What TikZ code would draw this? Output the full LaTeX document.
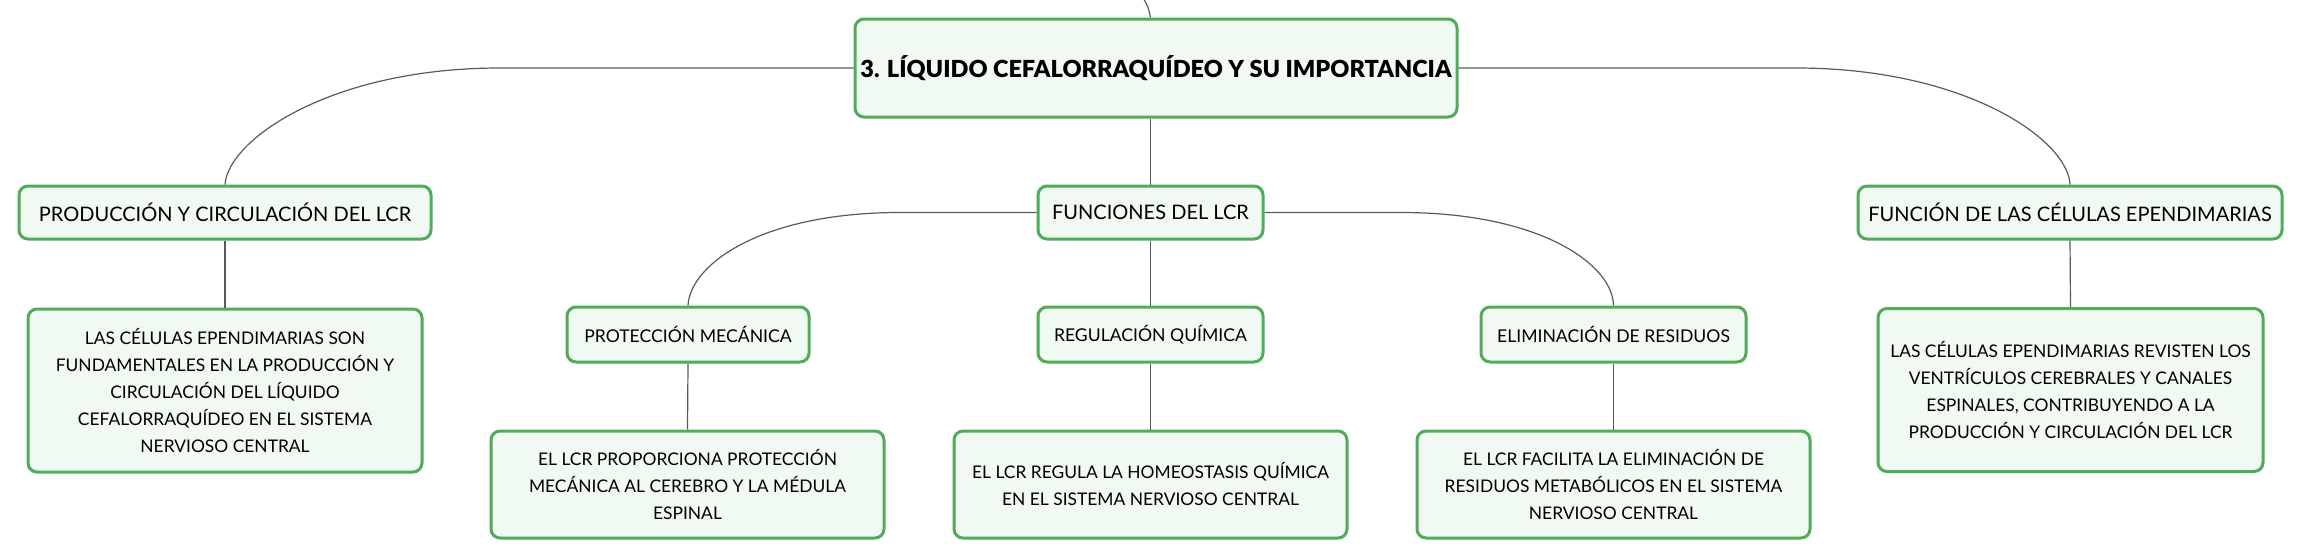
\documentclass[tikz,border=0pt]{standalone}
\usepackage{fontspec}
\setmainfont{Lato}
\IfFontExistsTF{Lato Black}{\newfontfamily\titlefont{Lato Black}}{\newfontfamily\titlefont[UprightFont=*-Bold]{Lato}}
\usetikzlibrary{calc}
\definecolor{boxgreen}{RGB}{80,172,88}
\definecolor{boxfill}{RGB}{241,249,243}
\definecolor{conncol}{RGB}{90,90,90}
\tikzset{
  box/.style={draw=boxgreen, fill=boxfill, line width=3pt, rounded corners=9pt,
    rectangle, inner sep=0pt, align=center, text=black,
    font=\fontsize{17.4}{27}\selectfont},
  labelbox/.style={box, font=\fontsize{20}{27}\selectfont},
  sublabelbox/.style={box, font=\fontsize{17.6}{27}\selectfont},
  titlebox/.style={box, font=\fontsize{23.5}{30}\titlefont},
  conn/.style={draw=conncol, line width=1.2pt},
}
\begin{document}
\begin{tikzpicture}[x=1pt,y=-1pt]
\useasboundingbox (0,0) rectangle (2313,558);
% nodes
\node[titlebox, minimum width=602pt, minimum height=98pt] (main) at (1156,68) {3. LÍQUIDO CEFALORRAQUÍDEO Y SU IMPORTANCIA};
\node[labelbox, minimum width=412pt, minimum height=53pt] (prod) at (225,212.5) {PRODUCCIÓN Y CIRCULACIÓN DEL LCR};
\node[labelbox, minimum width=225pt, minimum height=53pt] (func) at (1150.5,212.5) {FUNCIONES DEL LCR};
\node[labelbox, minimum width=424pt, minimum height=53pt] (fcel) at (2070,212.5) {FUNCIÓN DE LAS CÉLULAS EPENDIMARIAS};
\node[box, minimum width=394pt, minimum height=163pt] (prodtxt) at (225,390.5) {LAS CÉLULAS EPENDIMARIAS SON\\FUNDAMENTALES EN LA PRODUCCIÓN Y\\CIRCULACIÓN DEL LÍQUIDO\\CEFALORRAQUÍDEO EN EL SISTEMA\\NERVIOSO CENTRAL};
\node[box, minimum width=385pt, minimum height=163pt] (fceltxt) at (2070.5,390) {LAS CÉLULAS EPENDIMARIAS REVISTEN LOS\\VENTRÍCULOS CEREBRALES Y CANALES\\ESPINALES, CONTRIBUYENDO A LA\\PRODUCCIÓN Y CIRCULACIÓN DEL LCR};
\node[sublabelbox, minimum width=242pt, minimum height=55pt] (prot) at (688,334.5) {PROTECCIÓN MECÁNICA};
\node[sublabelbox, minimum width=225pt, minimum height=55pt] (reg) at (1150.5,334.5) {REGULACIÓN QUÍMICA};
\node[sublabelbox, minimum width=265pt, minimum height=55pt] (elim) at (1613.5,334.5) {ELIMINACIÓN DE RESIDUOS};
\node[box, minimum width=393pt, minimum height=107pt] (prottxt) at (687.5,484.5) {EL LCR PROPORCIONA PROTECCIÓN\\MECÁNICA AL CEREBRO Y LA MÉDULA\\ESPINAL};
\node[box, minimum width=393pt, minimum height=107pt] (regtxt) at (1150.5,484.5) {EL LCR REGULA LA HOMEOSTASIS QUÍMICA\\EN EL SISTEMA NERVIOSO CENTRAL};
\node[box, minimum width=393pt, minimum height=107pt] (elimtxt) at (1613.5,484.5) {EL LCR FACILITA LA ELIMINACIÓN DE\\RESIDUOS METABÓLICOS EN EL SISTEMA\\NERVIOSO CENTRAL};
% connectors
\coordinate (topin) at (1143,-2);
\draw[conn] (topin) .. controls (1148,6) .. (main.north -| func.north);
\draw[conn] (main.west) -- (500,68) .. controls (330,68) and (228,140) .. (prod.north);
\draw[conn] (main.east) -- (1796,68) .. controls (1966,68) and (2068,140) .. (fcel.north);
\draw[conn] (main.south -| func.north) -- (func.north);
\draw[conn] (func.west) -- (900,212.5) .. controls (760,212.5) and (690,265) .. (prot.north);
\draw[conn] (func.east) -- (1401,212.5) .. controls (1541,212.5) and (1613,265) .. (elim.north);
\draw[conn] (func.south) -- (reg.north);
\draw[conn] (prod.south) -- (prodtxt.north);
\draw[conn] (fcel.south) -- (fceltxt.north);
\draw[conn] (prot.south) -- (prottxt.north);
\draw[conn] (reg.south) -- (regtxt.north);
\draw[conn] (elim.south) -- (elimtxt.north);
\end{tikzpicture}
\end{document}
